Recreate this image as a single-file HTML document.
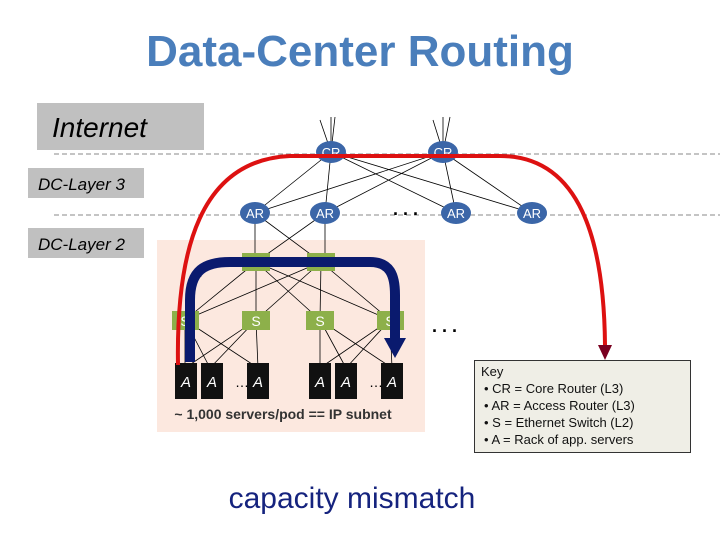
<!DOCTYPE html>
<html><head><style>
body{margin:0;width:720px;height:540px;background:#fff;overflow:hidden}
svg{display:block}
text{font-family:"Liberation Sans",sans-serif}
</style></head><body>
<svg width="720" height="540" viewBox="0 0 720 540">
<text x="360" y="66" text-anchor="middle" font-size="44" font-weight="bold" fill="#4a7ebb">Data-Center Routing</text>
<rect x="37" y="103" width="167" height="47" fill="#c0c0c0"/>
<text x="52" y="137" font-size="28" font-style="italic">Internet</text>
<rect x="28" y="168" width="116" height="30" fill="#c0c0c0"/>
<text x="38" y="190" font-size="17" font-style="italic">DC-Layer 3</text>
<rect x="28" y="228" width="116" height="30" fill="#c0c0c0"/>
<text x="38" y="250" font-size="17" font-style="italic">DC-Layer 2</text>
<line x1="54" y1="154" x2="720" y2="154" stroke="#888" stroke-dasharray="5,3"/>
<line x1="54" y1="215" x2="720" y2="215" stroke="#888" stroke-dasharray="5,3"/>
<rect x="157" y="240" width="268" height="192" fill="#fce8df"/>
<g stroke="#000" stroke-width="0.8" fill="none">
<path d="M320 120L331 152L335 117M331 117V152M433 120L443 152L450 117M443 117V152"/>
<path d="M331 152L255 213M331 152L325 213M331 152L456 213M331 152L532 213M443 152L255 213M443 152L325 213M443 152L456 213M443 152L532 213"/>
<path d="M255 213V262L321 262M255 213L321 262M325 213V262M325 213L256 262"/>
<path d="M256 262L185 320M256 262L256 320M256 262L320 320M256 262L390 320M321 262L185 320M321 262L256 320M321 262L320 320M321 262L390 320"/>
<path d="M185 320L185 368M185 320L210 368M185 320L258 368M256 320L185 368M256 320L210 368M256 320L258 368M320 320L320 368M320 320L346 368M320 320L392 368M390 320L320 368M390 320L346 368M390 320L392 368"/>
</g>
<g fill="#3b66a8">
<ellipse cx="331" cy="152" rx="15" ry="11"/><ellipse cx="443" cy="152" rx="15" ry="11"/>
<ellipse cx="255" cy="213" rx="15" ry="11"/><ellipse cx="325" cy="213" rx="15" ry="11"/>
<ellipse cx="456" cy="213" rx="15" ry="11"/><ellipse cx="532" cy="213" rx="15" ry="11"/>
</g>
<g fill="#fff" font-size="13" text-anchor="middle">
<text x="331" y="157">CR</text><text x="443" y="157">CR</text>
<text x="255" y="218">AR</text><text x="325" y="218">AR</text><text x="456" y="218">AR</text><text x="532" y="218">AR</text>
</g>
<text x="393" y="215" font-size="18" font-weight="bold">. . .</text>
<text x="432" y="332" font-size="18" font-weight="bold">. . .</text>
<g fill="#8db04a">
<rect x="242" y="253" width="28" height="18"/><rect x="307" y="253" width="28" height="18"/>
<rect x="172" y="311" width="27" height="19"/><rect x="242" y="311" width="28" height="19"/>
<rect x="306" y="311" width="28" height="19"/><rect x="377" y="311" width="27" height="19"/>
</g>
<g fill="#fff" font-size="14" text-anchor="middle">
<text x="256" y="267">S</text><text x="321" y="267">S</text>
<text x="185" y="326">S</text><text x="256" y="326">S</text><text x="320" y="326">S</text><text x="390" y="326">S</text>
</g>
<g fill="#111">
<rect x="175" y="363" width="22" height="36"/><rect x="201" y="363" width="22" height="36"/><rect x="247" y="363" width="22" height="36"/>
<rect x="309" y="363" width="22" height="36"/><rect x="335" y="363" width="22" height="36"/><rect x="381" y="363" width="22" height="36"/>
</g>
<g fill="#fff" font-size="15" font-style="italic" text-anchor="middle">
<text x="186" y="387">A</text><text x="212" y="387">A</text><text x="258" y="387">A</text>
<text x="320" y="387">A</text><text x="346" y="387">A</text><text x="392" y="387">A</text>
</g>
<text x="235" y="387" font-size="14">…</text><text x="369" y="387" font-size="14">…</text>
<text x="283" y="419" font-size="14" text-anchor="middle" font-weight="bold" fill="#333">~ 1,000 servers/pod == IP subnet</text>
<text x="194" y="281" font-size="14">~</text>
<path d="M178 365C176 250 200 160 290 156H500C580 156 604 240 605 345" fill="none" stroke="#d11" stroke-width="4"/>
<path d="M598 345L612 345L605 360Z" fill="#7a0020"/>
<path d="M190 362V300C190 270 205 262 230 262H370C390 262 395 275 395 295V340" fill="none" stroke="#0a1a6e" stroke-width="10"/>
<path d="M384 338L406 338L395 358Z" fill="#0a1a6e"/>
<rect x="474.5" y="360.5" width="216" height="92" fill="#efeee6" stroke="#333"/>
<g font-size="13" fill="#111">
<text x="481" y="376">Key</text>
<text x="484" y="393">•  CR = Core Router (L3)</text>
<text x="484" y="410">•  AR = Access Router (L3)</text>
<text x="484" y="427">•  S = Ethernet Switch (L2)</text>
<text x="484" y="444">•  A = Rack of app. servers</text>
</g>
<text x="352" y="508" text-anchor="middle" font-size="30" fill="#15237e">capacity mismatch</text>
</svg>
</body></html>
